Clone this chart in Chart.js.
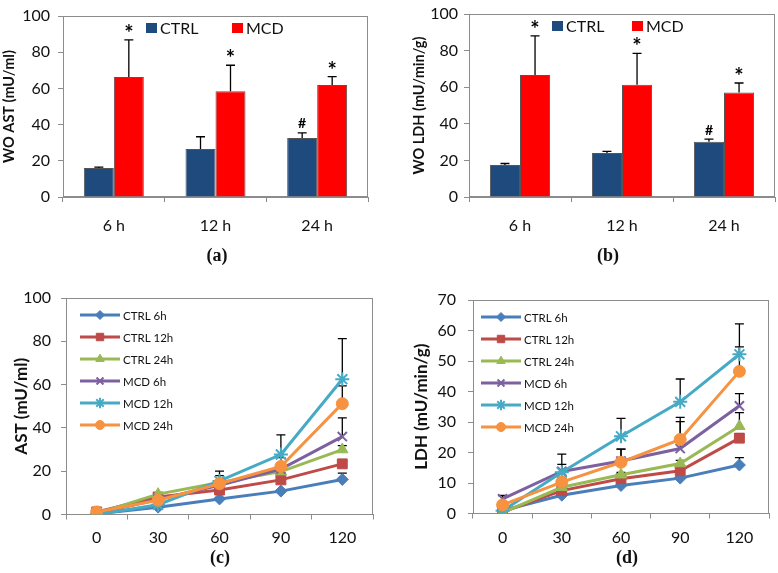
<!DOCTYPE html>
<html>
<head>
<meta charset="utf-8">
<script src="https://cdn.jsdelivr.net/npm/chart.js@4.4.1/dist/chart.umd.min.js"></script>
<style>
  html, body { margin: 0; padding: 0; background: #fff; }
  #fig { position: relative; width: 778px; height: 573px; overflow: hidden; }
  #fig canvas { position: absolute; }
  .cap { position: absolute; font: bold 18px "Liberation Serif", serif; color: #111; transform: translate(-50%, -50%); white-space: nowrap; }
</style>
</head>
<body>
<div id="fig">
  <canvas id="chartA" width="389" height="245" style="left:0;top:0"></canvas>
  <canvas id="chartB" width="389" height="245" style="left:389px;top:0"></canvas>
  <canvas id="chartC" width="389" height="270" style="left:0;top:280px"></canvas>
  <canvas id="chartD" width="389" height="270" style="left:389px;top:280px"></canvas>
  <div class="cap" style="left:217px;top:255px">(a)</div>
  <div class="cap" style="left:608px;top:255px">(b)</div>
  <div class="cap" style="left:220px;top:557px">(c)</div>
  <div class="cap" style="left:627px;top:557px">(d)</div>
</div>
<script>
// ---- data ----
const barLabels = ['6 h', '12 h', '24 h'];
const barSeries = ['CTRL', 'MCD'];
const barTicks = [0, 20, 40, 60, 80, 100];

// (a) WO AST (mU/ml)
const astCtrl = [16.0, 26.5, 32.6];
const astCtrlSd = [0.5, 6.8, 2.8];
const astMcd = [66.3, 58.4, 61.9];
const astMcdSd = [20.5, 14.4, 4.6];
const astCtrlMarks = ['', '', '#'];
const astMcdMarks = ['*', '*', '*'];

// (b) WO LDH (mU/min/g)
const ldhCtrl = [17.5, 24.0, 30.2];
const ldhCtrlSd = [0.8, 0.9, 1.4];
const ldhMcd = [66.7, 61.4, 57.1];
const ldhMcdSd = [21.3, 17.1, 5.2];
const ldhCtrlMarks = ['', '', '#'];
const ldhMcdMarks = ['*', '*', '*'];

// (c), (d) time course
const minutes = ['0', '30', '60', '90', '120'];
const lineSeries = ['CTRL 6h', 'CTRL 12h', 'CTRL 24h', 'MCD 6h', 'MCD 12h', 'MCD 24h'];
const astTicks = [0, 20, 40, 60, 80, 100];
const ldhTicks = [0, 10, 20, 30, 40, 50, 60, 70];

// (c) AST (mU/ml)
const astCurves = [
  [0.3, 3.4, 7.2, 10.8, 16.2],
  [1.2, 8.1, 11.3, 16.0, 23.4],
  [0.5, 9.4, 14.8, 19.8, 30.0],
  [0.5, 7.0, 13.5, 21.0, 36.0],
  [0.0, 4.5, 15.5, 27.7, 62.5],
  [1.2, 6.6, 14.2, 22.2, 51.2]
];
const astCurvesSd = [
  [0, 0.3, 0.5, 0.5, 2.9],
  [0, 0.5, 1.0, 1.0, 1.5],
  [0, 0.5, 1.0, 1.0, 1.8],
  [0, 0.5, 1.0, 1.0, 8.6],
  [0, 0.5, 4.5, 9.1, 18.7],
  [0, 0.5, 3.8, 4.1, 8.2]
];

// (d) LDH (mU/min/g)
const ldhCurves = [
  [1.0, 6.0, 9.2, 11.6, 15.9],
  [0.5, 7.5, 11.4, 14.0, 24.7],
  [0.3, 8.6, 12.7, 16.4, 28.6],
  [4.8, 13.8, 17.2, 21.3, 35.3],
  [0.9, 13.5, 25.3, 36.6, 52.2],
  [2.8, 10.3, 16.8, 24.3, 46.6]
];
const ldhCurvesSd = [
  [0.3, 0.5, 0.5, 0.5, 2.4],
  [0.3, 0.5, 0.8, 0.8, 1.5],
  [0.3, 0.5, 0.8, 1.0, 4.5],
  [1.1, 2.3, 3.9, 8.8, 4.0],
  [0.3, 6.0, 5.9, 7.5, 10.0],
  [0.5, 1.5, 4.3, 7.2, 8.0]
];

// ---- styles ----
const barColors = ['#1f4a7e', '#ff0000'];
const lineColors = ['#4a7ebb', '#be4b48', '#98b954', '#7d60a0', '#46aac5', '#f69240'];
const pointStyles = ['rectRot', 'rect', 'triangle', 'crossRot', 'star', 'circle'];
const pointSizes = [6, 7, 6.5, 6.5, 7, 6];
const axisGray = '#8c8c8c';
const textColor = '#111';
const sans = 'Lato, "Open Sans", sans-serif';

// plot area frame
const frame = {
  id: 'frame',
  beforeDatasetsDraw(chart) {
    const { ctx, chartArea: a } = chart;
    ctx.save();
    ctx.strokeStyle = axisGray;
    ctx.lineWidth = 1;
    ctx.strokeRect(Math.round(a.left) + 0.5, Math.round(a.top) + 0.5,
      Math.round(a.width) - 1, Math.round(a.height) - 1);
    ctx.restore();
  }
};

// upper error bars + significance marks
function drawErrors(chart, opts) {
  const { ctx } = chart;
  const y = chart.scales.y;
  ctx.save();
  ctx.strokeStyle = '#000';
  ctx.lineWidth = 1.3;
  chart.data.datasets.forEach((ds, i) => {
    if (!ds.sd) return;
    chart.getDatasetMeta(i).data.forEach((el, j) => {
      const top = y.getPixelForValue(ds.data[j] + ds.sd[j]);
      const base = y.getPixelForValue(ds.data[j]);
      if (ds.sd[j] > 0) {
        ctx.beginPath();
        ctx.moveTo(el.x, base);
        ctx.lineTo(el.x, top);
        ctx.moveTo(el.x - opts.cap, top);
        ctx.lineTo(el.x + opts.cap, top);
        ctx.stroke();
      }
      if (ds.marks && ds.marks[j]) {
        const m = ds.marks[j];
        ctx.fillStyle = '#000';
        ctx.textAlign = 'center';
        ctx.textBaseline = 'middle';
        ctx.font = m === '*' ? 'bold 22px ' + sans : 'bold 14px ' + sans;
        ctx.fillText(m, el.x, top - (m === '*' ? 6 : 9));
      }
    });
  });
  ctx.restore();
}
const errorBars = {
  id: 'errorBars',
  beforeDatasetsDraw(chart, args, opts) { if (opts.under) drawErrors(chart, opts); },
  afterDatasetsDraw(chart, args, opts) { if (!opts.under) drawErrors(chart, opts); }
};

// legend inside the plot area
const innerLegend = {
  id: 'innerLegend',
  afterDraw(chart, args, opts) {
    const { ctx, chartArea: a } = chart;
    ctx.save();
    ctx.textBaseline = 'middle';
    ctx.textAlign = 'left';
    ctx.fillStyle = textColor;
    chart.data.datasets.forEach((ds, i) => {
      if (opts.kind === 'bar') {
        const x = a.left + opts.xs[i], y = a.top + opts.y;
        ctx.fillStyle = ds.backgroundColor;
        ctx.fillRect(x, y - 5, 11, 10);
        ctx.fillStyle = textColor;
        ctx.font = '16px ' + sans;
        ctx.fillText(ds.label, x + 14, y + 1);
      } else {
        const x = a.left + opts.x, y = a.top + opts.y + i * opts.gap;
        ctx.strokeStyle = ds.borderColor;
        ctx.lineWidth = 3;
        ctx.beginPath();
        ctx.moveTo(x, y);
        ctx.lineTo(x + 40, y);
        ctx.stroke();
        ctx.fillStyle = ds.borderColor;
        ctx.lineWidth = ds.pointBorderWidth;
        Chart.helpers.drawPoint(ctx, {
          pointStyle: ds.pointStyle, rotation: 0,
          radius: ds.pointRadius * 0.75, borderWidth: ds.pointBorderWidth
        }, x + 20, y);
        ctx.fillStyle = textColor;
        ctx.font = '11.5px ' + sans;
        ctx.fillText(ds.label, x + 43, y + 1);
      }
    });
    ctx.restore();
  }
};

function axes(cfg) {
  return {
    x: {
      offset: true,
      grid: { display: true, offset: true, drawOnChartArea: false, tickLength: 5, color: axisGray },
      border: { display: true, color: axisGray },
      ticks: { color: textColor, padding: cfg.xPad, font: { family: sans, size: 16, lineHeight: 1 } },
      afterFit: s => { s.height = cfg.xHeight; }
    },
    y: {
      min: cfg.ticks[0],
      max: cfg.ticks[cfg.ticks.length - 1],
      grid: { display: true, drawOnChartArea: false, tickLength: 5, color: axisGray },
      border: { display: true, color: axisGray },
      ticks: { stepSize: cfg.ticks[1] - cfg.ticks[0], color: textColor, padding: cfg.yPad,
        font: { family: sans, size: 16, lineHeight: 1 } },
      title: { display: true, text: cfg.title, color: textColor,
        padding: { top: cfg.titlePad, bottom: 0 },
        font: { family: sans, size: cfg.titleSize, weight: 'bold', lineHeight: 1.2 } },
      afterFit: s => { s.width = cfg.yWidth; }
    }
  };
}

function barChart(id, ctrl, ctrlSd, ctrlMarks, mcd, mcdSd, mcdMarks, cfg) {
  return new Chart(document.getElementById(id), {
    type: 'bar',
    data: {
      labels: barLabels,
      datasets: [
        { label: barSeries[0], data: ctrl, sd: ctrlSd, marks: ctrlMarks,
          backgroundColor: barColors[0], borderColor: '#555', borderWidth: 1 },
        { label: barSeries[1], data: mcd, sd: mcdSd, marks: mcdMarks,
          backgroundColor: barColors[1], borderColor: '#555', borderWidth: 1 }
      ]
    },
    options: {
      responsive: false,
      animation: false,
      categoryPercentage: 0.59,
      barPercentage: 1,
      layout: { padding: cfg.padding },
      plugins: {
        legend: { display: false },
        tooltip: { enabled: false },
        errorBars: { cap: 4.5 },
        innerLegend: { kind: 'bar', xs: cfg.legendXs, y: 12 }
      },
      scales: axes(cfg)
    },
    plugins: [frame, errorBars, innerLegend]
  });
}

function lineChart(id, curves, sds, cfg) {
  const n = lineSeries.length;
  return new Chart(document.getElementById(id), {
    type: 'line',
    data: {
      labels: minutes,
      datasets: lineSeries.map((name, i) => ({
        label: name,
        data: curves[i],
        sd: sds[i],
        order: n - i,
        borderColor: lineColors[i],
        backgroundColor: lineColors[i],
        borderWidth: 3,
        pointStyle: pointStyles[i],
        pointRadius: pointSizes[i],
        pointBackgroundColor: lineColors[i],
        pointBorderColor: lineColors[i],
        pointBorderWidth: (pointStyles[i] === 'crossRot' || pointStyles[i] === 'star') ? 2 : 1,
        tension: 0
      }))
    },
    options: {
      responsive: false,
      animation: false,
      layout: { padding: cfg.padding },
      plugins: {
        legend: { display: false },
        tooltip: { enabled: false },
        errorBars: { cap: 4.5, under: true },
        innerLegend: { kind: 'line', x: cfg.legendX, y: 17, gap: 22 }
      },
      scales: axes(cfg)
    },
    plugins: [frame, errorBars, innerLegend]
  });
}

barChart('chartA', astCtrl, astCtrlSd, astCtrlMarks, astMcd, astMcdSd, astMcdMarks, {
  ticks: barTicks, title: 'WO AST (mU/ml)', titleSize: 14.5, titlePad: 1,
  padding: { top: 8, right: 21, left: 0, bottom: 0 },
  yWidth: 63, xHeight: 48, xPad: 16, yPad: 8, legendXs: [83, 169]
});
barChart('chartB', ldhCtrl, ldhCtrlSd, ldhCtrlMarks, ldhMcd, ldhMcdSd, ldhMcdMarks, {
  ticks: barTicks, title: 'WO LDH (mU/min/g)', titleSize: 14.5, titlePad: 22,
  padding: { top: 8, right: 3, left: 0, bottom: 0 },
  yWidth: 80, xHeight: 48, xPad: 16, yPad: 6, legendXs: [83, 163]
});
lineChart('chartC', astCurves, astCurvesSd, {
  ticks: astTicks, title: 'AST (mU/ml)', titleSize: 17, titlePad: 11,
  padding: { top: 16, right: 16, left: 0, bottom: 0 },
  yWidth: 66, xHeight: 35.5, xPad: 10.5, yPad: 10, legendX: 14
});
lineChart('chartD', ldhCurves, ldhCurvesSd, {
  ticks: ldhTicks, title: 'LDH (mU/min/g)', titleSize: 17, titlePad: 22,
  padding: { top: 16, right: 6, left: 0, bottom: 0 },
  yWidth: 84, xHeight: 36.5, xPad: 11.5, yPad: 12, legendX: 8
});
</script>
</body>
</html>
